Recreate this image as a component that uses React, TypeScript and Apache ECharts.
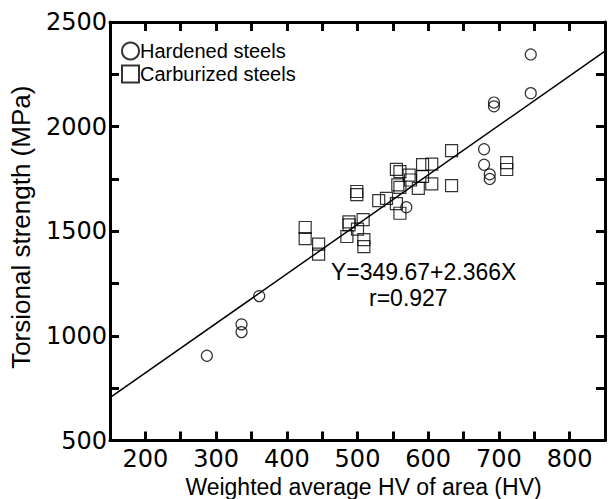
import React, { useEffect, useRef } from 'react';
import * as echarts from 'echarts';

// Hardened steels (circles)
const hardenedX = [287, 336, 336, 361, 569, 679, 679, 687, 687, 693, 693, 745, 745];
const hardenedY = [905, 1055, 1018, 1190, 1615, 1892, 1818, 1772, 1750, 2115, 2097, 2345, 2160];

// Carburized steels (squares)
const carburizedX = [426, 426, 445, 445, 488, 488, 485, 500, 508, 509, 509, 499, 499, 530, 541, 555, 560, 557, 555, 560, 560, 573, 575, 586, 592, 592, 605, 605, 633, 633, 711, 711];
const carburizedY = [1518, 1465, 1438, 1391, 1545, 1530, 1475, 1510, 1556, 1460, 1427, 1690, 1675, 1646, 1657, 1632, 1586, 1722, 1796, 1785, 1710, 1768, 1745, 1705, 1818, 1762, 1821, 1726, 1885, 1718, 1828, 1795];

// Regression: Y = a + bX
const fitIntercept = 349.67;
const fitSlope = 2.366;
const fitText = ['Y=349.67+2.366X', 'r=0.927'];

const xRange = [150, 850];
const yRange = [500, 2500];
const seriesNames = ['Hardened steels', 'Carburized steels'];

export default function App() {
  const ref = useRef<HTMLDivElement>(null);
  useEffect(() => {
    const chart = echarts.init(ref.current as HTMLDivElement, null, { renderer: 'svg' });
    const black = '#000';
    const lineStyle = { color: black, width: 3 };
    const tick = { show: true, inside: true, length: 9, lineStyle: { color: black, width: 3 } };
    const tickFont = { fontSize: 24, fontFamily: 'DejaVu Sans', color: black };
    const markerStyle = { color: 'rgba(0,0,0,0)', borderColor: black, borderWidth: 1.2 };

    chart.setOption({
      animation: false,
      backgroundColor: '#fff',
      grid: { left: 110, top: 22, width: 495, height: 418.5, containLabel: false, outerBoundsMode: 'none' },
      xAxis: [
        {
          type: 'value', min: xRange[0], max: xRange[1], interval: 50, position: 'bottom',
          name: 'Weighted average HV of area (HV)', nameLocation: 'middle', nameGap: 32,
          nameTextStyle: { fontSize: 23, lineHeight: 24, fontFamily: 'Liberation Sans', color: black, padding: [0, 0, 0, 12] },
          axisLine: { onZero: false, lineStyle },
          axisTick: tick,
          axisLabel: { ...tickFont, margin: 6, formatter: (v: number) => (v % 100 === 0 ? String(v) : '') },
          splitLine: { show: false },
        },
        {
          type: 'value', min: xRange[0], max: xRange[1], interval: 50, position: 'top',
          axisLine: { onZero: false, lineStyle },
          axisTick: tick,
          axisLabel: { show: false },
          splitLine: { show: false },
        },
      ],
      yAxis: [
        {
          type: 'value', min: yRange[0], max: yRange[1], interval: 250, position: 'left',
          name: 'Torsional strength (MPa)', nameLocation: 'middle', nameGap: 76,
          nameTextStyle: { fontSize: 26, fontFamily: 'Liberation Sans', color: black, padding: [0, 0, 0, 8] },
          axisLine: { onZero: false, lineStyle },
          axisTick: tick,
          axisLabel: { ...tickFont, margin: 3, formatter: (v: number) => (v % 500 === 0 ? String(v) : '') },
          splitLine: { show: false },
        },
        {
          type: 'value', min: yRange[0], max: yRange[1], interval: 250, position: 'right',
          axisLine: { onZero: false, lineStyle },
          axisTick: tick,
          axisLabel: { show: false },
          splitLine: { show: false },
        },
      ],
      legend: {
        orient: 'vertical', left: 121, top: 41, padding: 0,
        itemWidth: 17, itemHeight: 17, itemGap: 3,
        textStyle: { fontSize: 20, fontFamily: 'Liberation Sans', color: black, padding: [0, 0, 0, -4] },
        data: [
          { name: seriesNames[0], icon: 'circle' },
          { name: seriesNames[1], icon: 'rect' },
        ],
      },
      series: [
        {
          name: 'fit', type: 'line', silent: true, showSymbol: false, symbol: 'none',
          lineStyle: { color: black, width: 1.5 },
          data: xRange.map((x) => [x, fitIntercept + fitSlope * x]),
          z: 1,
        },
        {
          name: seriesNames[0], type: 'scatter', symbol: 'circle', symbolSize: 11,
          itemStyle: markerStyle,
          data: hardenedX.map((x, i) => [x, hardenedY[i]]),
          z: 2,
        },
        {
          name: seriesNames[1], type: 'scatter', symbol: 'rect', symbolSize: 12,
          itemStyle: markerStyle,
          data: carburizedX.map((x, i) => [x, carburizedY[i]]),
          z: 2,
        },
      ],
      graphic: [
        {
          type: 'text', left: 331, top: 260,
          style: { text: fitText[0], fontSize: 23, fontFamily: 'Liberation Sans', fill: black },
        },
        {
          type: 'text', left: 369, top: 286,
          style: { text: fitText[1], fontSize: 23, fontFamily: 'Liberation Sans', fill: black },
        },
      ],
    });
    return () => chart.dispose();
  }, []);
  return <div ref={ref} style={{ position: 'absolute', left: 0, top: 0, width: 609, height: 499 }} />;
}
